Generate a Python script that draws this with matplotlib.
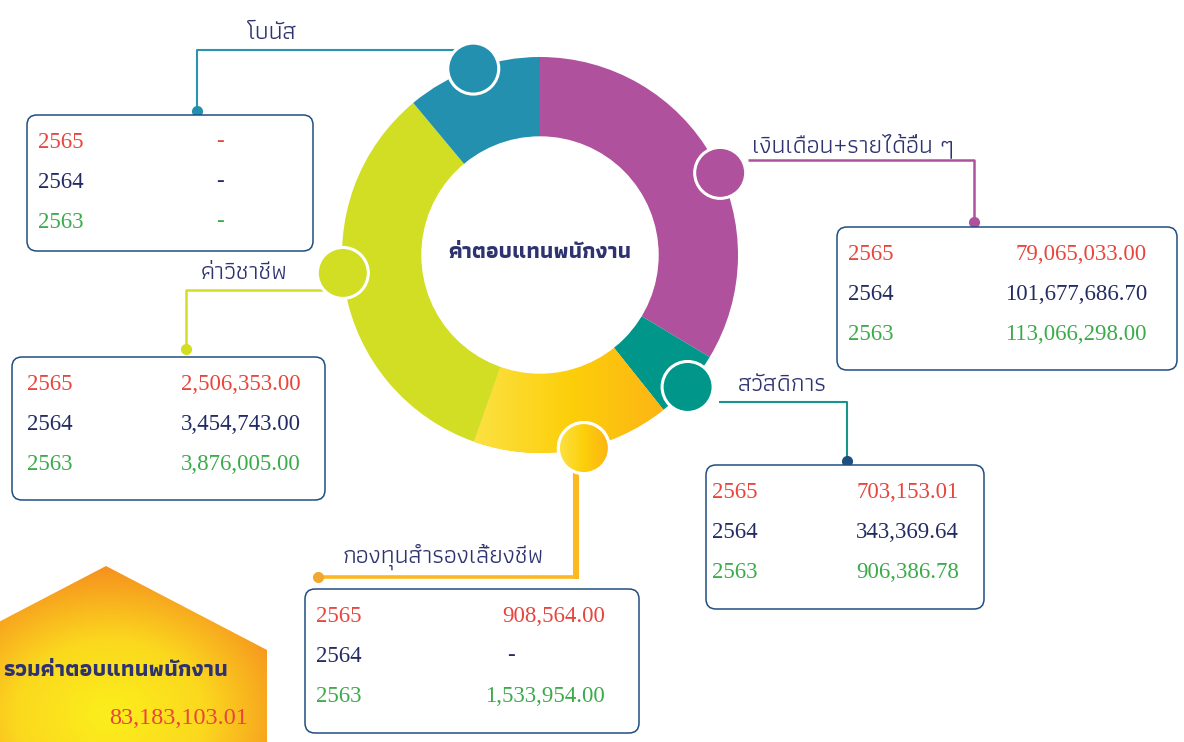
import numpy as np
import matplotlib
matplotlib.use("Agg")
import matplotlib.pyplot as plt
from matplotlib.patches import Circle, FancyBboxPatch, Polygon
from matplotlib.colors import LinearSegmentedColormap

# --- data -------------------------------------------------------------
title = "ค่าตอบแทนพนักงาน"
categories = ["เงินเดือน+รายได้อื่น ๆ", "สวัสดิการ", "กองทุนสำรองเลี้ยงชีพ", "ค่าวิชาชีพ", "โบนัส"]
ring_share = [121.0, 20.4, 58.0, 120.7, 39.8]   # visual share of ring (degrees), not to scale with values
years = ["2565", "2564", "2563"]
salary = [79065033.00, 101677686.70, 113066298.00]
welfare = [703153.01, 343369.64, 906386.78]
provident = [908564.00, np.nan, 1533954.00]
professional = [2506353.00, 3454743.00, 3876005.00]
bonus = [np.nan, np.nan, np.nan]
total_label = "รวมค่าตอบแทนพนักงาน"
total_value = 83183103.01

plt.rcParams['font.family'] = ["Athiti", "DejaVu Sans"]
num_font = "Liberation Serif"

red, navy, green = "#e8453c", "#232c62", "#3bab4a"
label_col = "#2e3370"
box_edge = "#1f4e80"
ring_colors = ["#b0519e", "#00968a", "#fcc824", "#d2de24", "#2490b0"]
year_colors = [red, navy, green]
line_colors = ["#b0519e", "#14968a", "#fbb820", "#d2de24", "#2a93b0"]

# layout (pixel coords, y down)
cx, cy, R, W = 540, 255, 198, 80
layout = {
    0: dict(box=(837, 227, 1177, 370), yx=848, vx=1147, dx=1090, lab=(752, 146, "left"),
            path=[(748, 160), (974, 160), (974, 222)], dot="#b0519e", ang=24.5, lw=1.8),
    1: dict(box=(706, 465, 984, 609), yx=712, vx=959, dx=900, lab=(738, 385, "left"),
            path=[(719, 402), (847, 402), (847, 461)], dot="#1f4e80", ang=-41.8, lw=1.5),
    2: dict(box=(305, 589, 639, 733), yx=316, vx=605, dx=511, lab=(342, 557, "left"),
            path=[(576, 577), (318, 577)], dot="#f0a830", ang=-77.2, lw=2.6),
    3: dict(box=(12, 357, 325, 500), yx=27, vx=301, dx=250, lab=(288, 273, "right"),
            path=[(343, 290), (186, 290), (186, 349)], dot="#d2de24", ang=185.2, lw=1.8),
    4: dict(box=(27, 115, 313, 251), yx=38, vx=220, dx=220, lab=(247, 33, "left"),
            path=[(470, 50), (197, 50), (197, 111)], dot="#2490b0", ang=109.7, lw=1.5),
}
values = [salary, welfare, provident, professional, bonus]


def fmt(v):
    return "-" if np.isnan(v) else f"{v:,.2f}"


fig = plt.figure(figsize=(11.84, 7.42), dpi=100)
ax = fig.add_axes([0, 0, 1, 1])

# donut ring (y axis is flipped, so counterclock=True runs clockwise on screen)
wedges, _ = ax.pie(ring_share, colors=ring_colors, radius=R, center=(cx, cy),
                   startangle=-90, counterclock=True,
                   wedgeprops=dict(width=W, linewidth=0))
yel_cmap = LinearSegmentedColormap.from_list("yel", ["#fbe244", "#fdcf0a", "#fcb316"])
grad = np.tile(np.linspace(0, 1, 256), (10, 1))
im = ax.imshow(grad, cmap=yel_cmap, extent=(470, 670, 460, 340), origin="upper",
               zorder=2, aspect="auto")
im.set_clip_path(wedges[2])
ax.add_patch(Circle((cx, cy), R - W, color="white", zorder=2.5))
ax.text(cx, cy - 3, title, ha="center", va="center", fontsize=16, fontweight="bold",
        color=label_col, zorder=5)

# thick vertical drop for the provident fund leader
ax.plot([576, 576], [470, 579], color="#fbb820", lw=4.4, zorder=3, solid_capstyle="butt")

# leaders, markers, boxes
for i, cat in enumerate(categories):
    L = layout[i]
    xs, ys = zip(*L["path"])
    ax.plot(xs, ys, color=line_colors[i], lw=L["lw"], zorder=3, solid_capstyle="butt")
    ax.plot(*L["path"][-1], "o", color=L["dot"], ms=7, zorder=3)
    a = np.deg2rad(L["ang"])
    mx, my = cx + R * np.cos(a), cy - R * np.sin(a)
    c = Circle((mx, my), 25.5, facecolor=ring_colors[i], edgecolor="white", lw=2.2, zorder=4)
    ax.add_patch(c)
    if i == 2:
        im2 = ax.imshow(grad, cmap=yel_cmap, extent=(mx - 26, mx + 26, my + 26, my - 26),
                        origin="upper", zorder=4.1, aspect="auto")
        im2.set_clip_path(c)
        ax.add_patch(Circle((mx, my), 25.5, facecolor="none", edgecolor="white", lw=2.2, zorder=4.2))
    lx, ly, ha = L["lab"]
    ax.text(lx, ly, cat, ha=ha, va="center", fontsize=18, color=label_col, zorder=5)

    x0, y0, x1, y1 = L["box"]
    ax.add_patch(FancyBboxPatch((x0, y0), x1 - x0, y1 - y0,
                                boxstyle="round,pad=0,rounding_size=10",
                                facecolor="white", edgecolor=box_edge, lw=1.1, zorder=3))
    for j, yr in enumerate(years):
        ry = y0 + 27 + 40 * j
        ax.text(L["yx"], ry, yr, ha="left", va="center", fontsize=16.5, family=num_font,
                color=year_colors[j], zorder=5)
        v = values[i][j]
        if np.isnan(v):
            ax.text(L["dx"], ry, "-", ha="center", va="center", fontsize=16.5, family=num_font,
                    color=year_colors[j], zorder=5)
        else:
            ax.text(L["vx"], ry, fmt(v), ha="right", va="center", fontsize=16.5, family=num_font,
                    color=year_colors[j], zorder=5)

# total "house" shape with radial gradient
house = Polygon([(-55, 650), (106, 566), (267, 650), (267, 760), (-55, 760)],
                closed=True, facecolor="none", edgecolor="none")
ax.add_patch(house)
gx, gy = np.meshgrid(np.linspace(-55, 267, 200), np.linspace(566, 742, 120))
rad = np.clip(np.hypot((gx - 110) / 190, (gy - 715) / 150), 0, 1)
house_cmap = LinearSegmentedColormap.from_list("house", ["#fbef1c", "#fbd81e", "#f6901f"])
im3 = ax.imshow(rad, cmap=house_cmap, extent=(-55, 267, 742, 566), origin="upper",
                zorder=2, aspect="auto")
im3.set_clip_path(house)
ax.text(228, 671, total_label, ha="right", va="center", fontsize=16.3, fontweight="bold",
        color=label_col, zorder=5)
ax.text(248, 718, fmt(total_value), ha="right", va="center", fontsize=17.5, family=num_font,
        color=red, zorder=5)

ax.set_xlim(0, 1184)
ax.set_ylim(742, 0)
ax.set_aspect("equal")
ax.axis("off")
fig.savefig("out.png", dpi=100)
